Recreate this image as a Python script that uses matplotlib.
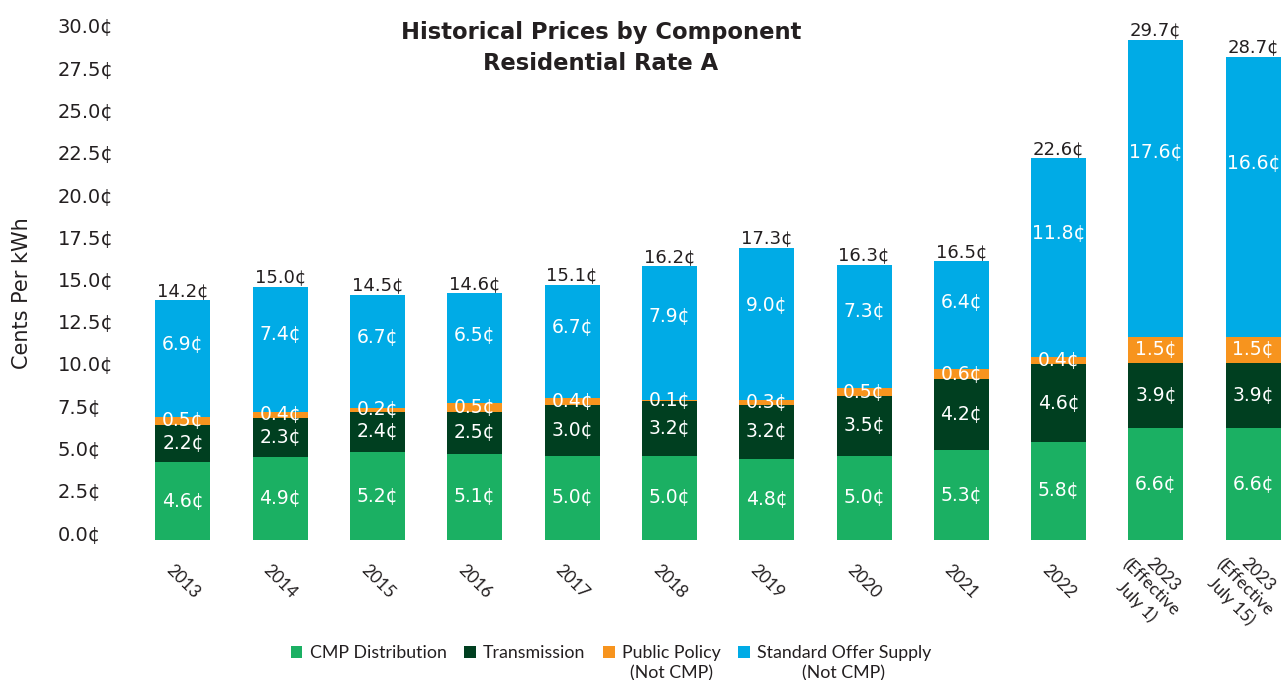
import numpy as np
import matplotlib
matplotlib.use("Agg")
import matplotlib.pyplot as plt
import matplotlib.transforms as mtransforms

plt.rcParams['font.family'] = ['DejaVu Sans']
LATO = ['Lato', 'DejaVu Sans']

# data
years = ['2013', '2014', '2015', '2016', '2017', '2018', '2019', '2020', '2021', '2022',
         '2023\n(Effective\nJuly 1)', '2023\n(Effective\nJuly 15)']
distribution = [4.6, 4.9, 5.2, 5.1, 5.0, 5.0, 4.8, 5.0, 5.3, 5.8, 6.6, 6.6]
transmission = [2.2, 2.3, 2.4, 2.5, 3.0, 3.2, 3.2, 3.5, 4.2, 4.6, 3.9, 3.9]
public_policy = [0.5, 0.4, 0.2, 0.5, 0.4, 0.1, 0.3, 0.5, 0.6, 0.4, 1.5, 1.5]
supply = [6.9, 7.4, 6.7, 6.5, 6.7, 7.9, 9.0, 7.3, 6.4, 11.8, 17.6, 16.6]
totals = [14.2, 15.0, 14.5, 14.6, 15.1, 16.2, 17.3, 16.3, 16.5, 22.6, 29.7, 28.7]

series = [distribution, transmission, public_policy, supply]
names = ['CMP Distribution', 'Transmission', 'Public Policy', 'Standard Offer Supply']
notes = ['', '', '(Not CMP)', '(Not CMP)']
colors = ['#1BB063', '#003F20', '#F7941E', '#00ABE6']
ink = '#231F20'

fig = plt.figure(figsize=(12.88, 6.8), dpi=100)
ax = fig.add_axes([120 / 1288, 140 / 680, 1168 / 1288, 507 / 680])

x = np.arange(len(years))
bottom = np.zeros(len(years))
for k, (vals, name, col) in enumerate(zip(series, names, colors)):
    vals = np.array(vals)
    ax.bar(x, vals, width=0.565, bottom=bottom, color=col, label=name, linewidth=0)
    frac = 0.62 if k == 3 else 0.5
    for xi, b, v in zip(x, bottom, vals):
        ax.text(xi, b + v * frac, f'{v:.1f}¢', ha='center', va='center',
                color='white', fontsize=13.5)
    bottom = bottom + vals

for xi, top, t in zip(x, bottom, totals):
    ax.text(xi, top + 0.02, f'{t:.1f}¢', ha='center', va='bottom', color=ink, fontsize=13)

ax.set_xlim(-0.647, 11.357)
ax.set_ylim(0, 30)
for s in ax.spines.values():
    s.set_visible(False)

yt = np.arange(0, 30.1, 2.5)
ax.set_yticks(yt)
ax.set_yticklabels([f'{v:.1f}¢' for v in yt], fontsize=14, color=ink)
ax.tick_params(axis='y', length=0, pad=45)
shift = mtransforms.ScaledTranslation(0, 0.07, fig.dpi_scale_trans)
for lab in ax.get_yticklabels():
    lab.set_ha('left')
    lab.set_transform(lab.get_transform() + shift)

ax.set_xticks(x)
ax.set_xticklabels(years, rotation=-45, ha='center', va='top', fontsize=12.5,
                   color=ink, multialignment='center', family=LATO)
ax.tick_params(axis='x', length=0, pad=16)
xlabs = ax.get_xticklabels()
xlabs[10].set_transform(xlabs[10].get_transform()
                        + mtransforms.ScaledTranslation(-0.06, 0.19, fig.dpi_scale_trans))
xlabs[11].set_transform(xlabs[11].get_transform()
                        + mtransforms.ScaledTranslation(-0.09, 0.19, fig.dpi_scale_trans))

fig.text(22 / 1288, 1 - 293 / 680, 'Cents Per kWh', rotation=90, ha='center', va='center',
         fontsize=15, color=ink)

fig.text(601 / 1288, 1 - 48 / 680, 'Historical Prices by Component\nResidential Rate A',
         ha='center', va='center', fontsize=16.3, fontweight='bold', color=ink,
         linespacing=1.4)

leg = fig.legend(loc='upper center', bbox_to_anchor=(611 / 1288, 1 - 636 / 680), ncol=4,
                 frameon=False, prop={'family': LATO, 'size': 12.8}, handlelength=0.65,
                 handleheight=0.65, handletextpad=0.4, columnspacing=1.0,
                 labelcolor=ink, borderpad=0)

# second line of the legend labels, centred under the first
fig.canvas.draw()
inv = fig.transFigure.inverted()
for txt, note in zip(leg.get_texts(), notes):
    if not note:
        continue
    bb = txt.get_window_extent()
    cx, y0 = inv.transform(((bb.x0 + bb.x1) / 2, bb.y0))
    fig.text(cx, y0 - 0.007, note, ha='center', va='top', family=LATO,
             fontsize=12.8, color=ink)

fig.savefig('out.png', dpi=100)
